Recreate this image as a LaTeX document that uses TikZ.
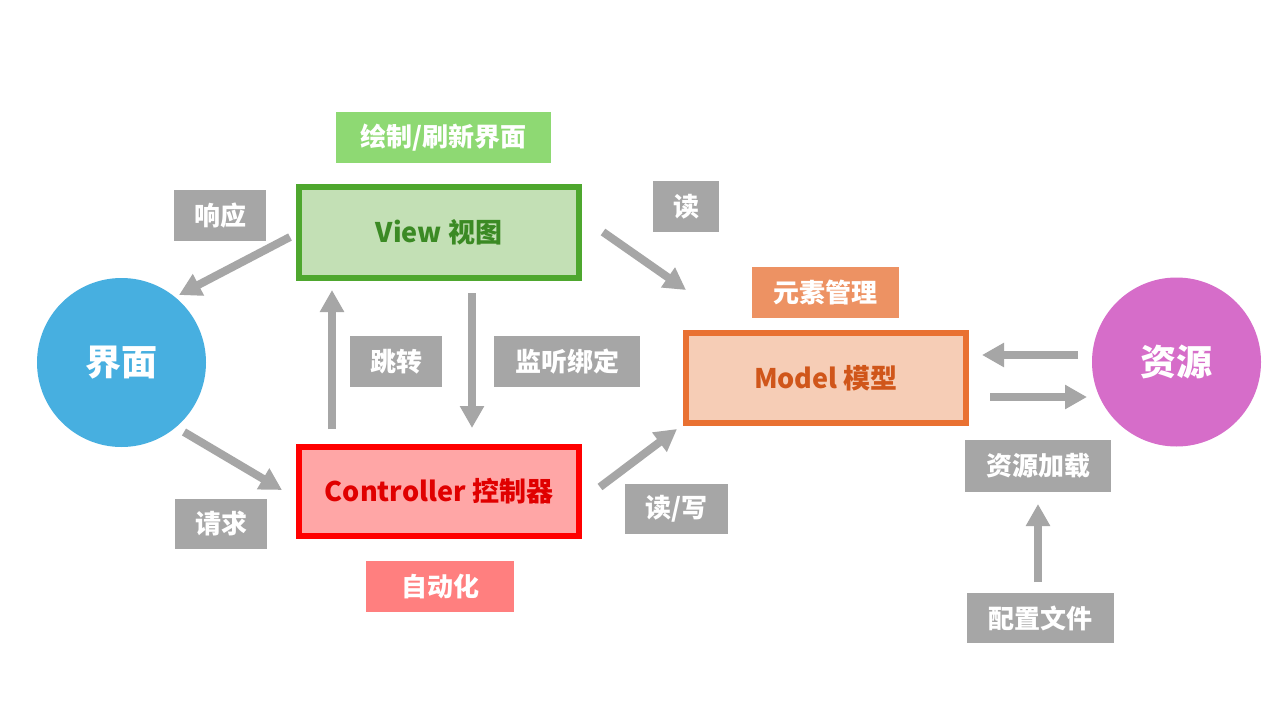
\documentclass[tikz,border=0pt]{standalone}
\usepackage{fontspec}
\setmainfont{Noto Sans CJK SC}
\usetikzlibrary{arrows.meta}
\definecolor{gry}{HTML}{A6A6A6}
\definecolor{vfill}{HTML}{C3E0B5}
\definecolor{vdraw}{HTML}{4EA72E}
\definecolor{vtext}{HTML}{3B8A24}
\definecolor{vlab}{HTML}{8ED973}
\definecolor{cfill}{HTML}{FFA6A6}
\definecolor{cdraw}{HTML}{FF0000}
\definecolor{ctext}{HTML}{E00000}
\definecolor{clab}{HTML}{FF7F7F}
\definecolor{mfill}{HTML}{F6CDB6}
\definecolor{mdraw}{HTML}{E97132}
\definecolor{mtext}{HTML}{D0561A}
\definecolor{mlab}{HTML}{ED9263}
\definecolor{blu}{HTML}{47AFE0}
\definecolor{pnk}{HTML}{D66DC9}
\tikzset{
  lab/.style={fill=#1, text=white, font=\bfseries\fontsize{26}{30}\selectfont, inner sep=0pt, anchor=center},
  mainbox/.style={line width=6pt, minimum width=280pt, inner sep=0pt, font=\bfseries\fontsize{27}{31}\selectfont},
  circ/.style={circle, fill=#1, minimum size=169pt, inner sep=0pt, text=white, font=\bfseries\fontsize{36}{40}\selectfont},
  arr/.style={draw=gry, line width=8pt, -{Triangle[length=22pt, width=23pt]}}
}
\begin{document}
\begin{tikzpicture}[x=1pt, y=-1pt]
\useasboundingbox[fill=white] (0,0) rectangle (1280,720);
% main boxes
\node[mainbox, draw=vdraw, fill=vfill, text=vtext, minimum height=91pt] (view) at (439,232.5) {View 视图};
\node[mainbox, draw=cdraw, fill=cfill, text=ctext, minimum height=89pt] (ctrl) at (439,491.5) {Controller 控制器};
\node[mainbox, draw=mdraw, fill=mfill, text=mtext, minimum height=90pt] (model) at (826,378) {Model 模型};
% circles
\node[circ=blu] (ui) at (121.5,362.5) {界面};
\node[circ=pnk] (res) at (1176.5,362) {资源};
% labels
\node[lab=vlab, minimum width=215pt, minimum height=51pt] (lhuizhi) at (443.5,137.5) {绘制/刷新界面};
\node[lab=gry, minimum width=92pt, minimum height=51pt] (lxiangying) at (220,215.5) {响应};
\node[lab=gry, minimum width=92pt, minimum height=51pt] (ltiaozhuan) at (396,361.5) {跳转};
\node[lab=gry, minimum width=146pt, minimum height=51pt] (ljianting) at (567,361.5) {监听绑定};
\node[lab=gry, minimum width=66pt, minimum height=51pt] (ldu) at (686,206.5) {读};
\node[lab=mlab, minimum width=147pt, minimum height=51pt] (lyuansu) at (825.5,292.5) {元素管理};
\node[lab=clab, minimum width=148pt, minimum height=51pt] (lzidong) at (440,586.5) {自动化};
\node[lab=gry, minimum width=92pt, minimum height=50pt] (lqingqiu) at (221,524) {请求};
\node[lab=gry, minimum width=103pt, minimum height=50pt] (lduxie) at (676.5,509) {读/写};
\node[lab=gry, minimum width=146pt, minimum height=52pt] (ljiazai) at (1038,466) {资源加载};
\node[lab=gry, minimum width=147pt, minimum height=50pt] (lpeizhi) at (1040.5,618) {配置文件};
% arrow end points
\coordinate (a1s) at (290,237); \coordinate (a1e) at (179,295);
\coordinate (a2s) at (184,432); \coordinate (a2e) at (282,490);
\coordinate (a3s) at (332,429); \coordinate (a3e) at (332,290);
\coordinate (a4s) at (472,293); \coordinate (a4e) at (472,428);
\coordinate (a5s) at (603,232); \coordinate (a5e) at (686,290);
\coordinate (a6s) at (600,487); \coordinate (a6e) at (677,429);
\coordinate (a7s) at (1078,355); \coordinate (a7e) at (982,355);
\coordinate (a8s) at (990,397); \coordinate (a8e) at (1087,397);
\coordinate (a9s) at (1038,582); \coordinate (a9e) at (1038,504);
\draw[arr] (a1s) -- (a1e);
\draw[arr] (a2s) -- (a2e);
\draw[arr] (a3s) -- (a3e);
\draw[arr] (a4s) -- (a4e);
\draw[arr] (a5s) -- (a5e);
\draw[arr] (a6s) -- (a6e);
\draw[arr] (a7s) -- (a7e);
\draw[arr] (a8s) -- (a8e);
\draw[arr] (a9s) -- (a9e);
\end{tikzpicture}
\end{document}
